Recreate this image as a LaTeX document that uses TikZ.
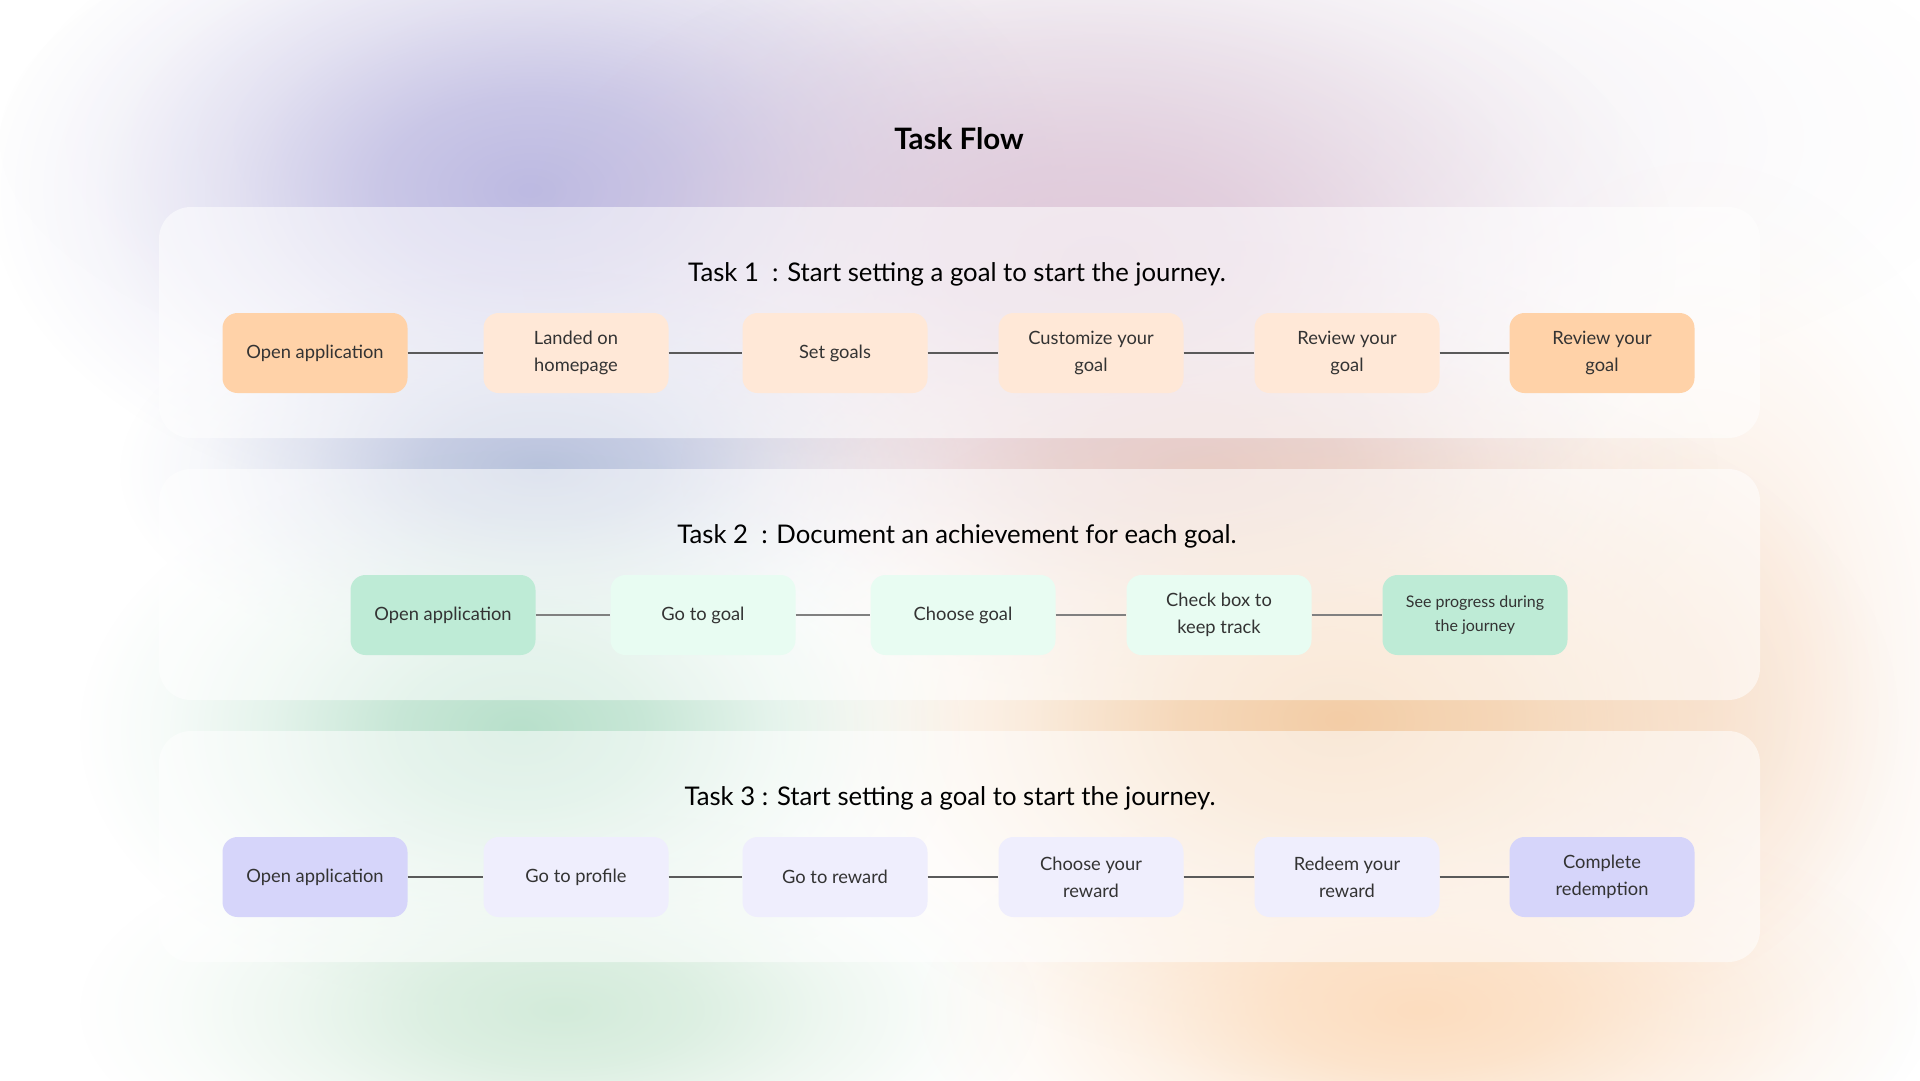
\documentclass[tikz,border=0pt]{standalone}
\usepackage{fontspec}
\setmainfont{Lato}
\usetikzlibrary{fadings}

\definecolor{textgray}{HTML}{333333}
\definecolor{linegray}{HTML}{5A5A5A}
\definecolor{peachhot}{HTML}{FFD2A8}
\definecolor{peachsoft}{HTML}{FFE8D7}
\definecolor{minthot}{HTML}{BEEBD6}
\definecolor{mintsoft}{HTML}{E8FCF2}
\definecolor{lilachot}{HTML}{D6D5FA}
\definecolor{lilacsoft}{HTML}{EFEEFD}
\definecolor{blobwash}{HTML}{ECE6EE}
\definecolor{blobviolet}{HTML}{BDBAE2}
\definecolor{blobmauve}{HTML}{DFC8D9}
\definecolor{blobsteel}{HTML}{B9C2DD}
\definecolor{blobrose}{HTML}{E6CDCD}
\definecolor{bloborange}{HTML}{F3CDA6}
\definecolor{blobgreen}{HTML}{B8E0CB}
\definecolor{blobmoss}{HTML}{D3EBDA}
\definecolor{blobpeach}{HTML}{FCDDBF}
\definecolor{blobcream}{HTML}{FBEADD}

% radial fading with a soft top: white = opaque, black = clear
\pgfdeclareradialshading{blobshading}{\pgfpointorigin}{color(0bp)=(white);
  color(7bp)=(black!22); color(14bp)=(black!62); color(20bp)=(black!88);
  color(25bp)=(black); color(50bp)=(black)}
\pgfdeclarefading{softblob}{\pgfuseshading{blobshading}}

\tikzset{
  card/.style={rounded corners=15pt, minimum width=185pt, minimum height=80pt,
    inner sep=0pt, align=center, text=textgray, font=\fontsize{18.3}{27}\selectfont},
  peach/.style={card, fill=peachsoft},
  peachkey/.style={card, fill=peachhot},
  mint/.style={card, fill=mintsoft},
  mintkey/.style={card, fill=minthot},
  lilac/.style={card, fill=lilacsoft},
  lilackey/.style={card, fill=lilachot},
  panel/.style={fill=white, fill opacity=0.55, rounded corners=32pt},
  heading/.style={font=\fontsize{25.7}{30}\selectfont, text=black},
  link/.style={draw=linegray, line width=1.3pt},
  blob/.style={fill=#1, path fading=softblob}
}

\begin{document}
\begin{tikzpicture}[x=1pt, y=-1pt]
  \useasboundingbox (0,0) rectangle (1920,1080);
  \fill[white] (0,0) rectangle (1920,1080);

  % soft colour blobs behind everything
  \fill[blob=blobwash] (1000,140) ellipse (1000 and 320);
  \fill[blob=blobcream] (1700,680) ellipse (320 and 520);
  \fill[blob=blobviolet] (530,190) ellipse (540 and 330);
  \fill[blob=blobmauve] (1100,260) ellipse (580 and 340);
  \fill[blob=blobsteel] (540,470) ellipse (420 and 200);
  \fill[blob=blobrose] (1200,470) ellipse (520 and 230);
  \fill[blob=bloborange] (1340,720) ellipse (560 and 360);
  \fill[blob=blobgreen] (520,730) ellipse (440 and 280);
  \fill[blob=blobmoss] (560,1010) ellipse (480 and 200);
  \fill[blob=blobpeach] (1420,1010) ellipse (500 and 220);

  % panels
  \fill[panel] (159,207) rectangle (1760,438);
  \fill[panel] (159,469) rectangle (1760,700);
  \fill[panel] (159,731) rectangle (1760,962);

  \node[font=\bfseries\fontsize{29.5}{34}\selectfont, text=black] (title) at (959,139) {Task Flow};

  % task 1
  \node[heading] (h1) at (957,274) {Task 1\ \ : Start setting a goal to start the journey.};
  \node[peachkey] (a1) at (315,353) {Open application};
  \node[peach] (a2) at (576,353) {Landed on\\homepage};
  \node[peach] (a3) at (835,353) {Set goals};
  \node[peach] (a4) at (1091,353) {Customize your\\goal};
  \node[peach] (a5) at (1347,353) {Review your\\goal};
  \node[peachkey] (a6) at (1602,353) {Review your\\goal};
  \draw[link] (a1) -- (a2);
  \draw[link] (a2) -- (a3);
  \draw[link] (a3) -- (a4);
  \draw[link] (a4) -- (a5);
  \draw[link] (a5) -- (a6);

  % task 2
  \node[heading] (h2) at (957,536) {Task 2\ \ : Document an achievement for each goal.};
  \node[mintkey] (b1) at (443,615) {Open application};
  \node[mint] (b2) at (703,615) {Go to goal};
  \node[mint] (b3) at (963,615) {Choose goal};
  \node[mint] (b4) at (1219,615) {Check box to\\keep track};
  \node[mintkey, font=\fontsize{16}{24}\selectfont] (b5) at (1475,615) {See progress during\\the journey};
  \draw[link, draw=gray] (b1) -- (b2);
  \draw[link, draw=gray] (b2) -- (b3);
  \draw[link, draw=gray] (b3) -- (b4);
  \draw[link, draw=gray] (b4) -- (b5);

  % task 3
  \node[heading] (h3) at (950,798) {Task 3 : Start setting a goal to start the journey.};
  \node[lilackey] (c1) at (315,877) {Open application};
  \node[lilac] (c2) at (576,877) {Go to profile};
  \node[lilac] (c3) at (835,877) {Go to reward};
  \node[lilac] (c4) at (1091,877) {Choose your\\reward};
  \node[lilac] (c5) at (1347,877) {Redeem your\\reward};
  \node[lilackey] (c6) at (1602,877) {Complete\\redemption};
  \draw[link] (c1) -- (c2);
  \draw[link] (c2) -- (c3);
  \draw[link] (c3) -- (c4);
  \draw[link] (c4) -- (c5);
  \draw[link] (c5) -- (c6);
\end{tikzpicture}
\end{document}
